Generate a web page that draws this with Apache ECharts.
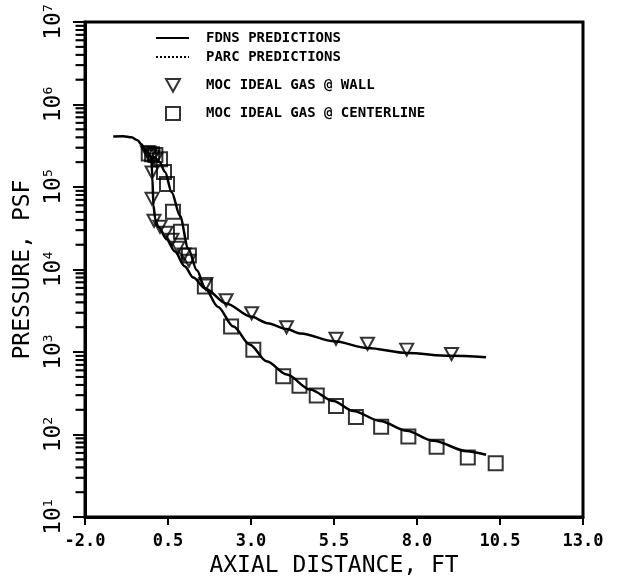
<!DOCTYPE html>
<html>
<head>
<meta charset="utf-8">
<script src="https://cdn.jsdelivr.net/npm/echarts@6/dist/echarts.min.js"></script>
<style>html,body{margin:0;padding:0;background:#fff;}#c{width:626px;height:583px;}</style>
</head>
<body>
<div id="c"></div>
<script>
// ---- data (axial distance ft, pressure psf) ----
var xTicks = [-2.0, 0.5, 3.0, 5.5, 8.0, 10.5, 13.0];
var yTicks = [10, 100, 1000, 10000, 100000, 1000000, 10000000];
var yMinorTicks = [20, 30, 40, 50, 60, 70, 80, 90,
  200, 300, 400, 500, 600, 700, 800, 900,
  2000, 3000, 4000, 5000, 6000, 7000, 8000, 9000,
  20000, 30000, 40000, 50000, 60000, 70000, 80000, 90000,
  200000, 300000, 400000, 500000, 600000, 700000, 800000, 900000,
  2000000, 3000000, 4000000, 5000000, 6000000, 7000000, 8000000, 9000000];

// FDNS upstream (inlet) curve, common to wall and centerline
var fdnsInletX = [-1.15, -0.85, -0.6, -0.42, -0.3, -0.2, -0.1, 0.0];
var fdnsInletP = [410000, 412000, 400000, 370000, 330000, 290000, 255000, 225000];

// FDNS wall curve
var fdnsWallX = [0.0, 0.03, 0.06, 0.12, 0.21, 0.45, 0.71, 1.0, 1.26, 1.62, 2.25, 3.0, 3.5, 4.07, 4.5, 5.5, 6.5, 7.7, 9.0, 10.08];
var fdnsWallP = [225000, 130000, 60000, 40000, 33000, 23500, 16500, 11000, 8000, 5900, 3890, 2690, 2240, 1900, 1680, 1350, 1120, 975, 900, 864];

// FDNS centerline curve
var fdnsCenterX = [0.0, 0.1, 0.25, 0.41, 0.61, 0.86, 1.11, 1.37, 1.62, 2.0, 2.47, 2.97, 3.47, 4.08, 4.78, 5.48, 6.08, 6.89, 7.69, 8.49, 9.5, 10.08];
var fdnsCenterP = [225000, 230000, 200000, 152000, 86500, 44800, 17900, 9800, 5900, 3550, 2040, 1225, 773, 533, 352, 255, 193, 146, 111, 84, 63, 57];

// PARC (dotted) – coincides with FDNS near the throat
var parcX = [-0.2, -0.1, 0.0, 0.1];
var parcP = [290000, 255000, 235000, 225000];

// MOC ideal gas @ wall (triangles)
var mocWallX = [-0.12, -0.05, 0.05, 0.12, 0.02, 0.02, 0.08, 0.26, 0.44, 0.62, 0.80, 0.98, 1.13, 1.64, 2.25, 3.02, 4.07, 5.56, 6.51, 7.69, 9.04];
var mocWallP = [265000, 245000, 235000, 215000, 150000, 72000, 39000, 33000, 27900, 23000, 18400, 15200, 12800, 6700, 4240, 2950, 2000, 1450, 1260, 1070, 947];

// MOC ideal gas @ centerline (squares)
var mocCenterX = [-0.08, 0.02, 0.12, 0.26, 0.38, 0.47, 0.65, 0.89, 1.13, 1.61, 2.40, 3.07, 3.97, 4.46, 4.98, 5.56, 6.16, 6.92, 7.74, 8.59, 9.53, 10.37];
var mocCenterP = [255000, 250000, 245000, 217000, 152000, 109000, 50000, 28700, 14800, 6240, 2040, 1070, 509, 392, 298, 222, 163, 124, 94.6, 71, 52.8, 44.8];

function pairs(xs, ys) { return xs.map(function (x, i) { return [x, ys[i]]; }); }
var X_MIN = -2, X_MAX = 13, Y_MIN = 10, Y_MAX = 10000000;

var MONO = 'DejaVu Sans Mono';
var DOWN_TRI = 'path://M0,0 L20,0 L10,18 Z';
var chart = echarts.init(document.getElementById('c'), null, { renderer: 'canvas' });
var lineBase = { type: 'line', showSymbol: false, symbol: 'none', smooth: 0.3, smoothMonotone: 'x',
  lineStyle: { color: '#000', width: 2.5 }, itemStyle: { color: '#000' }, z: 3, silent: true };
var legText = function (pad) { return { color: '#000', fontFamily: MONO, fontWeight: 'bold', fontSize: 14, padding: [0, 0, 0, pad] }; };
var noSym = { color: 'rgba(0,0,0,0)', borderWidth: 0, opacity: 0 };

chart.setOption({
  animation: false,
  backgroundColor: '#fff',
  grid: { left: 85, right: 43, top: 22, bottom: 63, show: true, borderColor: '#000', borderWidth: 3, backgroundColor: 'transparent' },
  legend: [
    { data: ['FDNS PREDICTIONS'], left: 150, top: 26, itemWidth: 33, itemHeight: 14, itemStyle: noSym, textStyle: legText(12), selectedMode: false },
    { data: ['PARC PREDICTIONS'], left: 150, top: 45, itemWidth: 33, itemHeight: 14, itemStyle: noSym, textStyle: legText(12), selectedMode: false },
    { data: ['MOC IDEAL GAS @ WALL'], left: 160, top: 73, itemWidth: 14, itemHeight: 13, textStyle: legText(21), selectedMode: false },
    { data: ['MOC IDEAL GAS @ CENTERLINE'], left: 160, top: 101, itemWidth: 14, itemHeight: 13, textStyle: legText(21), selectedMode: false }
  ],
  xAxis: {
    type: 'value', min: X_MIN, max: X_MAX,
    name: 'AXIAL DISTANCE, FT', nameLocation: 'middle', nameGap: 33,
    nameTextStyle: { color: '#000', fontFamily: MONO, fontSize: 23 },
    axisLine: { show: true, onZero: false, lineStyle: { color: '#000', width: 3 } },
    axisTick: { show: true, inside: false, length: 8, lineStyle: { color: '#000', width: 2 }, customValues: xTicks },
    axisLabel: { color: '#000', fontFamily: MONO, fontWeight: 'bold', fontSize: 17, margin: 16,
      customValues: xTicks, formatter: function (v) { return v.toFixed(1); } },
    splitLine: { show: false }
  },
  yAxis: {
    type: 'log', logBase: 10, min: Y_MIN, max: Y_MAX,
    name: 'PRESSURE, PSF', nameLocation: 'middle', nameGap: 48,
    nameTextStyle: { color: '#000', fontFamily: MONO, fontSize: 23 },
    axisLine: { show: true, onZero: false, lineStyle: { color: '#000', width: 3 } },
    axisTick: { show: true, inside: false, length: 12, lineStyle: { color: '#000', width: 2 }, customValues: yTicks },
    axisLabel: { rotate: 90, margin: 19, customValues: yTicks,
      formatter: function (v) { return '{a|10}{b|' + Math.round(Math.log10(v)) + '}'; },
      rich: {
        a: { color: '#000', fontFamily: MONO, fontSize: 23, lineHeight: 24 },
        b: { color: '#000', fontFamily: MONO, fontSize: 13, lineHeight: 13, verticalAlign: 'top' }
      } },
    splitLine: { show: false }
  },
  series: [
    Object.assign({}, lineBase, { name: 'FDNS PREDICTIONS', data: pairs(fdnsInletX, fdnsInletP) }),
    Object.assign({}, lineBase, { name: 'FDNS PREDICTIONS', data: pairs(fdnsWallX, fdnsWallP) }),
    Object.assign({}, lineBase, { name: 'FDNS PREDICTIONS', data: pairs(fdnsCenterX, fdnsCenterP) }),
    Object.assign({}, lineBase, { name: 'PARC PREDICTIONS', data: pairs(parcX, parcP),
      lineStyle: { color: '#000', width: 2, type: 'dotted' } }),
    { type: 'scatter', name: 'MOC IDEAL GAS @ WALL', data: pairs(mocWallX, mocWallP),
      symbol: DOWN_TRI, symbolSize: [13, 12], z: 4,
      itemStyle: { color: 'rgba(0,0,0,0)', borderColor: '#000', borderWidth: 2 } },
    { type: 'scatter', name: 'MOC IDEAL GAS @ CENTERLINE', data: pairs(mocCenterX, mocCenterP),
      symbol: 'rect', symbolSize: 14, z: 4,
      itemStyle: { color: 'rgba(0,0,0,0)', borderColor: '#000', borderWidth: 2 } },
    { type: 'scatter', name: 'y minor ticks', silent: true, clip: false, z: 10,
      data: yMinorTicks.map(function (v) { return [X_MIN, v]; }),
      symbol: 'rect', symbolSize: [9, 2], symbolOffset: [-5, 0],
      itemStyle: { color: '#000', opacity: 1 } }
  ]
});

// minor log ticks also as graphic lines, positioned through the chart's own scales
try {
  var tickEls = [];
  yMinorTicks.forEach(function (v) {
    var p = chart.convertToPixel({ xAxisIndex: 0, yAxisIndex: 0 }, [X_MIN, v]);
    if (p && isFinite(p[0]) && isFinite(p[1])) {
      tickEls.push({ type: 'line', silent: true, z: 100,
        shape: { x1: p[0] - 9, y1: p[1], x2: p[0], y2: p[1] },
        style: { stroke: '#000', lineWidth: 1.5 } });
    }
  });
  if (tickEls.length) chart.setOption({ graphic: tickEls });
} catch (e) {}
</script>
</body>
</html>
